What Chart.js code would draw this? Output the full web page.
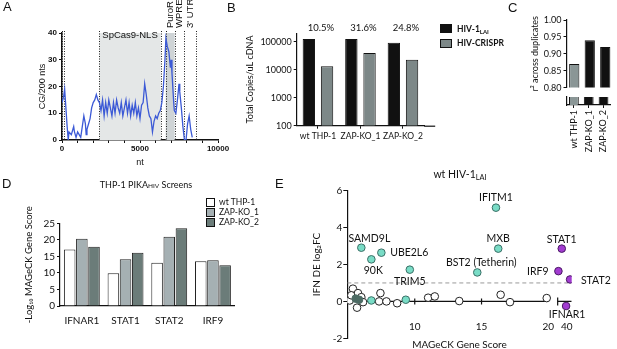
<!DOCTYPE html>
<html>
<head>
<meta charset="utf-8">
<script src="https://cdn.jsdelivr.net/npm/chart.js@4"></script>
<style>
  html, body { margin: 0; padding: 0; background: #fff; overflow: hidden; }
  #fig { position: relative; width: 617px; height: 349px; overflow: hidden; font-family: Lato, "Open Sans", sans-serif; color: #111; }
  canvas { position: absolute; }
  .abs { position: absolute; line-height: 1; white-space: nowrap; }
  .letter { font-family: "Liberation Sans", Arial, sans-serif; font-size: 13px; }
  .box { position: absolute; box-sizing: border-box; border: 1px solid #111; }
  sub { font-size: 70%; vertical-align: -2px; line-height: 0; }
</style>
</head>
<body>
<div id="fig">
  <canvas id="cA" width="235" height="175" style="left:0;top:0"></canvas>
  <canvas id="cB" width="205" height="160" style="left:235px;top:0"></canvas>
  <canvas id="cC" width="97" height="95" style="left:520px;top:0"></canvas>
  <canvas id="cC2" width="97" height="70" style="left:520px;top:95px"></canvas>
  <canvas id="cD" width="240" height="160" style="left:0;top:175px"></canvas>
  <canvas id="cE" width="337" height="184" style="left:280px;top:165px"></canvas>

  <div class="abs letter" style="left:3px;top:0">A</div>
  <div class="abs letter" style="left:227px;top:1.3px">B</div>
  <div class="abs letter" style="left:508px;top:1.3px">C</div>
  <div class="abs letter" style="left:2px;top:176.6px">D</div>
  <div class="abs letter" style="left:275px;top:176.6px">E</div>

  <div class="box" style="left:440px;top:24px;width:12px;height:9px;background:#111"></div>
  <div class="abs" style="left:457px;top:24.6px;font-size:8.5px;font-weight:bold">HIV-1<sub>LAI</sub></div>
  <div class="box" style="left:440px;top:38.5px;width:12px;height:9px;background:#7d8888"></div>
  <div class="abs" style="left:457px;top:39.3px;font-size:8.5px;font-weight:bold">HIV-CRISPR</div>

  <div class="abs" style="left:46px;top:180.2px;width:200px;text-align:center;font-size:9px">THP-1 PIKA<span style="font-size:6.5px">HIV</span> Screens</div>
  <div class="box" style="left:206px;top:198.3px;width:9px;height:8.5px;background:#fff"></div>
  <div class="box" style="left:206px;top:208.3px;width:9px;height:8.5px;background:#a5b0b3"></div>
  <div class="box" style="left:206px;top:218.3px;width:9px;height:8.5px;background:#6b7c79"></div>
  <div class="abs" style="left:219px;top:198px;font-size:8.5px">wt THP-1</div>
  <div class="abs" style="left:219px;top:208px;font-size:8.5px">ZAP-KO_1</div>
  <div class="abs" style="left:219px;top:218px;font-size:8.5px">ZAP-KO_2</div>

  <div class="abs" style="left:360px;top:169px;width:200px;text-align:center;font-size:10.5px">wt HIV-1<sub>LAI</sub></div>
</div>

<script>
// ---- A: CpG density along the HIV-CRISPR vector
const aNt = [0,100,170,250,330,400,450,500,600,700,750,800,900,1000,1100,1200,1300,1400,1500,1550,
  1600,1700,1800,1900,2000,2100,2200,2300,2400,2500,2600,2700,2800,2900,3000,3100,3200,3300,3400,3500,
  3600,3700,3800,3900,4000,4100,4200,4300,4400,4500,4600,4700,4800,4900,5000,5100,5200,5300,5350,5400,
  5500,5600,5700,5800,5900,6000,6100,6200,6300,6400,6500,6600,6660,6750,6850,6950,7000,7050,7100,7150,
  7200,7300,7400,7500,7550,7650,7750,7850,7950,8050,8150,8250,8350];
const aCg = [14,16,19,12,5,0,3,3,2,4,5,3,1,3,2,1,5,9,6,2,
  4,6,8,12,14,15,17,15,14,11,15,9,14,10,15,12,9,14,10,15,
  12,10,14,9,12,15,10,14,9,13,10,14,9,12,8,13,14,21,19,17,
  12,9,8,3,7,9,8,10,11,14,20,30,38,35,33,27,30,25,20,15,
  11,10,15,21,18,12,5,0,0,6,9,4,1];
const aTickNt = [0,1000,2000,3000,4000,5000,6000,7000,8000,9000,10000];
const aLabelNt = [0, 5000, 10000];
const featureNames = ['SpCas9-NLS', 'PuroR', 'WPRE', "3' UTR"];
const featureStart = [2390, 6650, 7220, 7840];
const featureEnd = [6330, 7220, 7840, 8570];
const dividerNt = [0, 150, 2390, 6330, 6650, 7220, 7840, 8570];

// ---- B: total copies per uL cDNA
const bGroups = ['wt THP-1', 'ZAP-KO_1', 'ZAP-KO_2'];
const bHiv = [125000, 125000, 92000];
const bCrispr = [13200, 39500, 22800];
const bPct = ['10.5%', '31.6%', '24.8%'];
const bTicks = [100, 1000, 10000, 100000];

// ---- C: r2 across duplicates
const cLines = ['wt THP-1', 'ZAP-KO_1', 'ZAP-KO_2'];
const cR2 = [0.87, 0.94, 0.92];

// ---- D: MAGeCK scores
const dGenes = ['IFNAR1', 'STAT1', 'STAT2', 'IRF9'];
const dWt = [17.1, 9.9, 13.1, 13.5];
const dKo1 = [20.3, 14.1, 20.9, 13.8];
const dKo2 = [17.9, 16.1, 23.5, 12.3];

// ---- E: IFN DE vs MAGeCK score
const eWhiteScore = [5.13,5.37,5.25,5.75,6.0,5.68,6.13,7.43,7.33,7.88,8.68,11.0,11.5,13.33,16.43,17.13,19.88];
const eWhiteFc = [0.05,0.69,0.33,0.45,0.23,-0.34,-0.04,0.45,0,0,-0.1,0.2,0.27,0.02,0.36,-0.04,0.18];
const eDarkScore = [5.58, 5.83];
const eDarkFc = [0.15, 0.09];
const eIsgNames = ['SAMD9L','90K','UBE2L6','TRIM5','BST2 (Tetherin)','IFITM1','MXB','',''];
const eIsgScore = [6.0, 6.75, 7.5, 9.63, 14.68, 16.08, 16.25, 6.75, 9.33];
const eIsgFc = [2.91, 2.28, 2.64, 1.72, 1.57, 5.08, 2.86, 0.05, 0.09];
const eJakNames = ['STAT1','IRF9','STAT2','IFNAR1'];
const eJakScore = [38.5, 37.5, 41.0, 39.8];
const eJakFc = [2.86, 1.64, 1.19, -0.25];
const eTickScores = [10, 15, 20, 40];

// label placement [dx, dy, align]
const eIsgPlace = [[8,-9,'center'],[2,11,'center'],[5,0,'left'],[0,12,'center'],[4,-10,'center'],[0,-10,'center'],[0,-10,'center'],null,null];
const eJakPlace = [[0,-9,'center'],[-6,0,'right'],[7,1,'left'],[1,9,'center']];

const ARIAL = '"Liberation Sans", Arial, sans-serif';
const SANS = 'Lato, "Open Sans", "DejaVu Sans", sans-serif';
Chart.defaults.font.family = SANS;
Chart.defaults.color = '#111';
Chart.defaults.animation = false;
Chart.defaults.plugins.legend.display = false;
Chart.defaults.plugins.tooltip.enabled = false;

const widthTo = w => s => { s.width = w; };
const heightTo = h => s => { s.height = h; };
const axisLine = { color: '#111', width: 1.2 };
const outTicks = { display: true, drawOnChartArea: false, tickLength: 3, color: '#111' };

// broken x axis in E: scores near 40 squeezed to the right of 20
const eBreakAt = 40, eBreakPos = 21.38, eBreakScale = 0.25;
const ePos = s => s > 20.5 ? eBreakPos + (s - eBreakAt) * eBreakScale : s;

const featurePlugin = {
  id: 'features',
  beforeDatasetsDraw(chart) {
    const { ctx, chartArea: a, scales: { x } } = chart;
    ctx.save();
    const shades = ['#e4e7e7', '#cfd4d6', null, null];
    featureStart.forEach((s, i) => {
      if (!shades[i]) return;
      const l = x.getPixelForValue(s), r = x.getPixelForValue(featureEnd[i]);
      ctx.fillStyle = shades[i];
      ctx.fillRect(l, a.top, r - l, a.bottom - a.top);
    });
    ctx.strokeStyle = '#222';
    ctx.lineWidth = 1;
    ctx.setLineDash([1, 1.5]);
    dividerNt.forEach(n => {
      const px = Math.round(x.getPixelForValue(n)) + 0.5;
      ctx.beginPath();
      ctx.moveTo(px, a.top - 2);
      ctx.lineTo(px, a.bottom);
      ctx.stroke();
    });
    ctx.restore();
  },
  afterDraw(chart) {
    const { ctx, chartArea: a, scales: { x } } = chart;
    ctx.save();
    ctx.fillStyle = '#111';
    // x tick labels
    ctx.font = 'bold 8px ' + ARIAL;
    ctx.textAlign = 'center';
    ctx.textBaseline = 'middle';
    aLabelNt.forEach(n => ctx.fillText(String(n), x.getPixelForValue(n), a.bottom + 9));
    ctx.font = '9.5px ' + ARIAL;
    featureNames.forEach((name, i) => {
      const cx = x.getPixelForValue((featureStart[i] + featureEnd[i]) / 2);
      if (i === 0) {
        ctx.textAlign = 'center';
        ctx.textBaseline = 'middle';
        ctx.fillText(name, cx, a.top + 2);
      } else {
        ctx.save();
        ctx.translate(cx, a.top - 5);
        ctx.rotate(-Math.PI / 2);
        ctx.textAlign = 'left';
        ctx.textBaseline = 'middle';
        ctx.fillText(name, 0, 0);
        ctx.restore();
      }
    });
    ctx.restore();
  }
};

new Chart(document.getElementById('cA'), {
  type: 'line',
  data: {
    datasets: [{
      data: aNt.map((x, i) => ({ x, y: aCg[i] })),
      borderColor: '#3c5ad6', borderWidth: 1.3, pointRadius: 0, tension: 0
    }]
  },
  options: {
    responsive: false,
    layout: { padding: { top: 33, right: 17, left: 0, bottom: 0 } },
    scales: {
      x: {
        type: 'linear', min: 0, max: 10000, afterFit: heightTo(35),
        afterBuildTicks: s => { s.ticks = aTickNt.map(v => ({ value: v })); },
        ticks: { autoSkip: false, maxRotation: 0, padding: 2, font: { family: ARIAL, size: 8, weight: 'bold' }, callback: () => '' },
        grid: outTicks, border: { color: '#111', width: 1.5 },
        title: { display: true, text: 'nt', font: { family: ARIAL, size: 9 }, padding: { top: 0, bottom: 6.6 } }
      },
      y: {
        min: 0, max: 40, afterFit: widthTo(62),
        ticks: { stepSize: 10, padding: 2, font: { family: ARIAL, size: 8, weight: 'bold' } },
        grid: outTicks, border: { color: '#111', width: 1.5 },
        title: { display: true, text: 'CG/200 nts', font: { family: ARIAL, size: 9 }, padding: { top: 37.6, bottom: 0 } }
      }
    }
  },
  plugins: [featurePlugin]
});

const pctPlugin = {
  id: 'pct',
  afterDatasetsDraw(chart) {
    const { ctx, chartArea: a } = chart;
    const m0 = chart.getDatasetMeta(0), m1 = chart.getDatasetMeta(1);
    ctx.save();
    ctx.fillStyle = '#111';
    ctx.font = '9.5px ' + SANS;
    ctx.textAlign = 'center';
    ctx.textBaseline = 'middle';
    bPct.forEach((t, i) => ctx.fillText(t, (m0.data[i].x + m1.data[i].x) / 2 + 3, a.top - 5));
    // x axis runs a little past the last group
    ctx.strokeStyle = '#111';
    ctx.lineWidth = 1.2;
    ctx.beginPath();
    ctx.moveTo(a.right, a.bottom + 0.5);
    ctx.lineTo(a.right + 11, a.bottom + 0.5);
    ctx.stroke();
    ctx.restore();
  }
};

new Chart(document.getElementById('cB'), {
  type: 'bar',
  data: {
    labels: bGroups,
    datasets: [
      { label: 'HIV-1 LAI', data: bHiv, backgroundColor: '#111', borderColor: '#111', borderWidth: 1 },
      { label: 'HIV-CRISPR', data: bCrispr, backgroundColor: '#7d8888', borderColor: '#111', borderWidth: 1 }
    ]
  },
  options: {
    responsive: false,
    categoryPercentage: 0.856, barPercentage: 0.68,
    layout: { padding: { top: 33.3, right: 15.8, left: 0, bottom: 0 } },
    scales: {
      x: {
        afterFit: heightTo(34.3),
        ticks: { autoSkip: false, maxRotation: 0, padding: 2, font: { size: 8.5 } },
        grid: { display: true, drawOnChartArea: false, tickLength: 3, color: '#111', offset: false }, border: axisLine
      },
      y: {
        type: 'logarithmic', min: 100, max: 200000, afterFit: widthTo(61.7),
        afterBuildTicks: s => { s.ticks = bTicks.map(v => ({ value: v })); },
        ticks: { padding: 2, font: { size: 9 }, callback: v => String(v) },
        grid: outTicks, border: axisLine,
        title: { display: true, text: 'Total Copies/uL cDNA', font: { size: 9 }, padding: { top: 9.6, bottom: 0 } }
      }
    }
  },
  plugins: [pctPlugin]
});

const cColors = ['#8a9696', '#111', '#111'];

new Chart(document.getElementById('cC'), {
  type: 'bar',
  data: { labels: cLines, datasets: [{ data: cR2, backgroundColor: cColors, borderColor: '#111', borderWidth: 1, clip: 0 }] },
  options: {
    responsive: false,
    categoryPercentage: 1, barPercentage: 0.66,
    layout: { padding: { top: 20, right: 4, left: 0, bottom: 4 } },
    scales: {
      x: { display: false },
      y: {
        min: 0.8, max: 1.0, afterFit: widthTo(46.5),
        ticks: { stepSize: 0.05, padding: 2, font: { size: 9 }, callback: v => v.toFixed(2) },
        grid: outTicks, border: axisLine,
        title: { display: true, text: 'r² across duplicates', font: { size: 9 }, padding: { top: 9.6, bottom: 0 } }
      }
    }
  }
});

new Chart(document.getElementById('cC2'), {
  type: 'bar',
  data: { labels: cLines, datasets: [{ data: cR2, backgroundColor: cColors, borderColor: '#111', borderWidth: 1, clip: 0 }] },
  options: {
    responsive: false,
    categoryPercentage: 1, barPercentage: 0.66,
    layout: { padding: { top: 2, right: 4, left: 0, bottom: 0 } },
    scales: {
      x: {
        afterFit: heightTo(60),
        ticks: { autoSkip: false, minRotation: 90, maxRotation: 90, padding: 2, font: { size: 9 } },
        grid: { display: true, drawOnChartArea: false, tickLength: 3, color: '#111', offset: false }, border: axisLine
      },
      y: {
        min: 0, max: 0.05, afterFit: widthTo(46.5),
        ticks: { display: false },
        grid: { display: false }, border: axisLine
      }
    }
  }
});

new Chart(document.getElementById('cD'), {
  type: 'bar',
  data: {
    labels: dGenes,
    datasets: [
      { label: 'wt THP-1', data: dWt, backgroundColor: '#fff', borderColor: '#222', borderWidth: 1 },
      { label: 'ZAP-KO_1', data: dKo1, backgroundColor: '#a5b0b3', borderColor: '#222', borderWidth: 1 },
      { label: 'ZAP-KO_2', data: dKo2, backgroundColor: '#6b7c79', borderColor: '#222', borderWidth: 1 }
    ]
  },
  options: {
    responsive: false,
    categoryPercentage: 0.835, barPercentage: 0.95,
    layout: { padding: { top: 48.3, right: 5.2, left: 0, bottom: 0 } },
    scales: {
      x: {
        afterFit: heightTo(29),
        ticks: { padding: 1, font: { size: 10 } },
        grid: { display: false }, border: axisLine
      },
      y: {
        min: 0, max: 25, afterFit: widthTo(60),
        ticks: { stepSize: 5, padding: 2, font: { size: 10 } },
        grid: outTicks, border: axisLine,
        title: { display: true, text: '-Log₁₀ MAGeCK Gene Score', font: { size: 9.5 }, padding: { top: 23.3, bottom: 0 } }
      }
    }
  }
});

const labelPlugin = {
  id: 'pointNames',
  afterDatasetsDraw(chart) {
    const { ctx, chartArea: a, scales: { x } } = chart;
    ctx.save();
    ctx.fillStyle = '#111';
    ctx.textBaseline = 'middle';
    // x tick labels sit above the bottom of the y range
    ctx.font = '10px ' + SANS;
    ctx.textAlign = 'center';
    eTickScores.forEach(s => ctx.fillText(String(s), x.getPixelForValue(ePos(s)), a.bottom - 11.6));
    ctx.font = '10.5px ' + SANS;
    chart.data.datasets.forEach((ds, di) => {
      if (!ds.names) return;
      const meta = chart.getDatasetMeta(di);
      meta.data.forEach((pt, i) => {
        const p = ds.place[i];
        if (!ds.names[i] || !p) return;
        const r = 3.8;
        let px = pt.x + p[0], py = pt.y + p[1];
        if (p[2] === 'left') px += r;
        if (p[2] === 'right') px -= r;
        ctx.textAlign = p[2];
        ctx.fillText(ds.names[i], px, py);
      });
    });
    ctx.restore();
  }
};

const dot = { pointRadius: 3.8, pointBorderWidth: 1, pointBorderColor: '#222' };

new Chart(document.getElementById('cE'), {
  type: 'scatter',
  data: {
    datasets: [
      { type: 'line', data: [{ x: 4.95, y: 1 }, { x: 21.7, y: 1 }], borderColor: '#9a9a9a', borderWidth: 1, borderDash: [4, 3], pointRadius: 0, order: 6 },
      { type: 'line', data: [{ x: 4.95, y: 0 }, { x: 10, y: 0 }, { x: 15, y: 0 }, { x: 20, y: 0 }], borderColor: '#111', borderWidth: 1.2,
        pointStyle: 'line', rotation: 90, pointRadius: [0, 3, 3, 0], pointBorderColor: '#111', pointBorderWidth: 1.2, order: 5 },
      { type: 'line', data: [{ x: 20.7, y: 0 }, { x: 21.75, y: 0 }], borderColor: '#111', borderWidth: 1.2,
        pointStyle: 'line', rotation: 90, pointRadius: [4, 0], pointBorderColor: '#111', pointBorderWidth: 1.2, order: 5 },
      { data: eWhiteScore.map((s, i) => ({ x: ePos(s), y: eWhiteFc[i] })), backgroundColor: '#fff', ...dot, order: 3 },
      { data: eDarkScore.map((s, i) => ({ x: ePos(s), y: eDarkFc[i] })), backgroundColor: '#4d6b64', ...dot, pointBorderColor: '#4d6b64', order: 2 },
      { data: eIsgScore.map((s, i) => ({ x: ePos(s), y: eIsgFc[i] })), backgroundColor: '#79dcc6', ...dot, pointBorderColor: '#3a6f66',
        names: eIsgNames, place: eIsgPlace, order: 2 },
      { data: eJakScore.map((s, i) => ({ x: ePos(s), y: eJakFc[i] })), backgroundColor: '#a23bd1', ...dot, pointBorderColor: '#4a1a63',
        names: eJakNames, place: eJakPlace, order: 1 }
    ]
  },
  options: {
    responsive: false,
    layout: { padding: { top: 25.7, right: 45.3, left: 0, bottom: 0 } },
    scales: {
      x: {
        type: 'linear', min: 4.95, max: 21.75, afterFit: heightTo(10.7),
        ticks: { display: false },
        grid: { display: false }, border: { display: false },
        title: { display: true, text: 'MAGeCK Gene Score', font: { size: 10 }, padding: { top: 0, bottom: -2 } }
      },
      y: {
        min: -2, max: 6, afterFit: widthTo(67.3),
        ticks: { stepSize: 2, padding: 1, font: { size: 10 } },
        grid: { display: true, drawOnChartArea: false, tickLength: 4, color: '#111' }, border: axisLine,
        title: { display: true, text: 'IFN DE log₂FC', font: { size: 10 }, padding: { top: 31, bottom: 0 } }
      }
    }
  },
  plugins: [labelPlugin]
});
</script>
</body>
</html>
